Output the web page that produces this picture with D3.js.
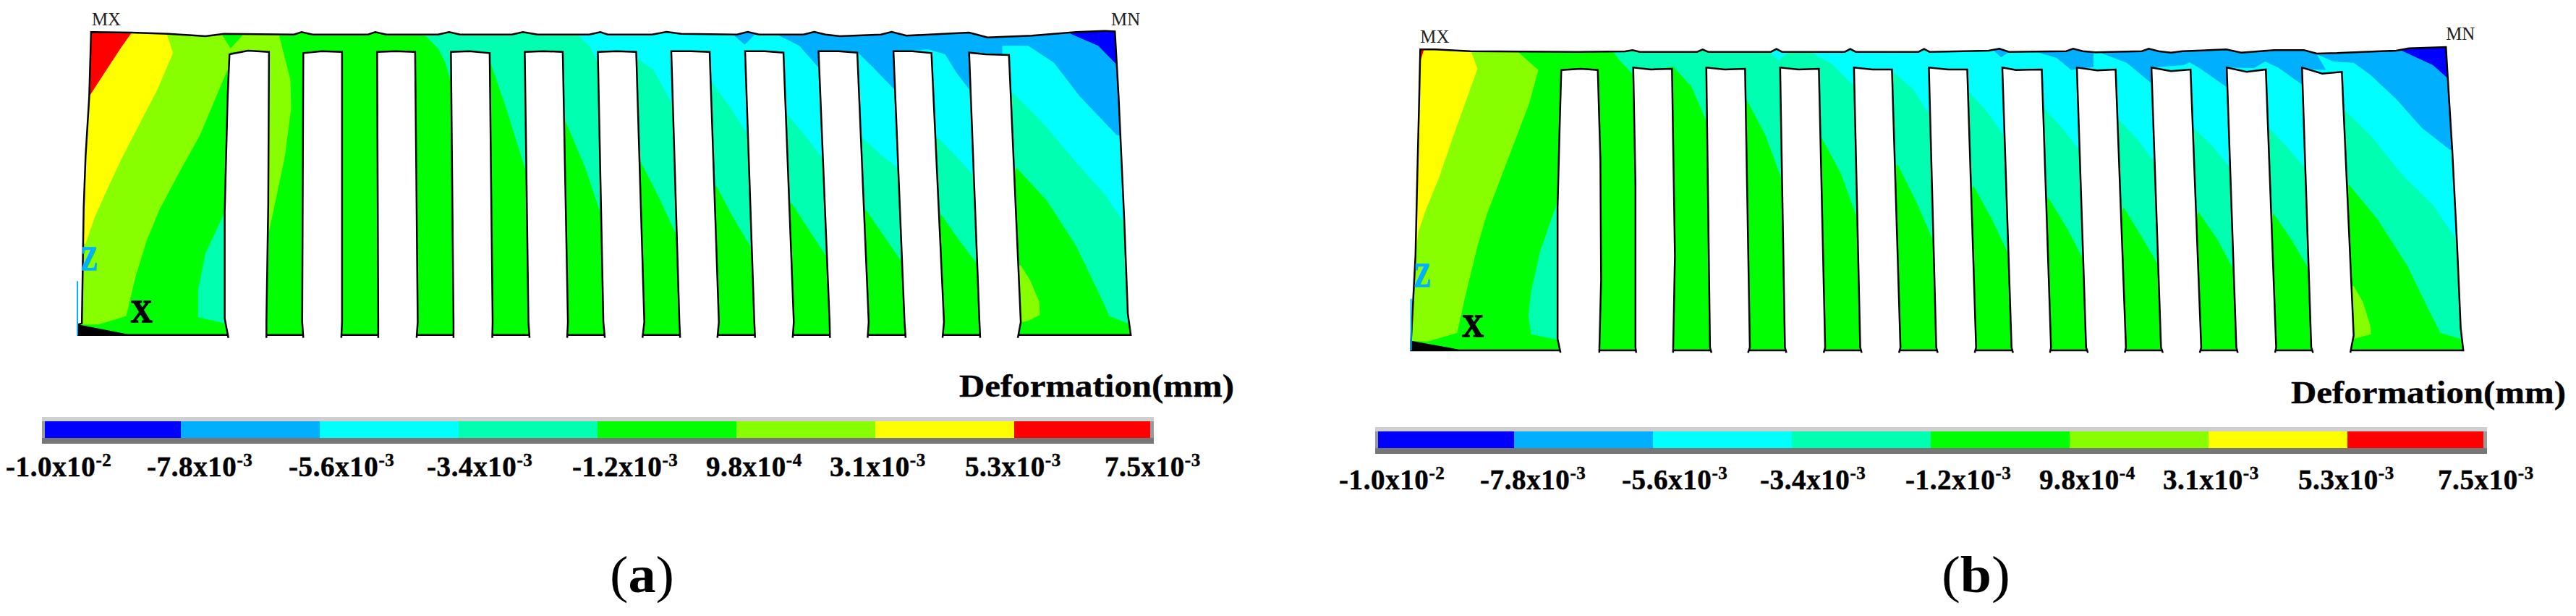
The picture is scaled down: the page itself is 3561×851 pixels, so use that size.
<!DOCTYPE html>
<html>
<head>
<meta charset="utf-8">
<script src="https://cdn.jsdelivr.net/npm/d3@7"></script>
<style>
body { margin: 0; background: #fff; }
text { font-family: "Liberation Serif", serif; }
</style>
</head>
<body>
<div id="chart"></div>
<script>
var outerWidth = 3561;
var outerHeight = 851;

// legend
var levels = [-1.0e-2, -7.8e-3, -5.6e-3, -3.4e-3, -1.2e-3, 9.8e-4, 3.1e-3, 5.3e-3, 7.5e-3];
var levelMant = ["-1.0", "-7.8", "-5.6", "-3.4", "-1.2", "9.8", "3.1", "5.3", "7.5"];
var levelExp = ["-2", "-3", "-3", "-3", "-3", "-4", "-3", "-3", "-3"];
var levelColors = ["#0000ff", "#00b0ff", "#00ffff", "#00ffb0", "#00ff00", "#88ff00", "#ffff00", "#ff0000"];
var labelNudge = [-50, -47, -43, -44, -35, -42, -63, -68, -67];

// model coordinates: x along the part 0-3000, y depth from above 0-1440
var a_outline = [[90,133],[200,135],[300,140],[400,150],[450,140],[640,143],[660,133],[690,143],[840,143],[860,133],[890,143],[1030,143],[1060,133],[1090,143],[1230,143],[1260,133],[1300,143],[1440,143],[1470,133],[1490,143],[1610,143],[1649,132],[1689,140],[1840,143],[1869,132],[1900,143],[2020,143],[2049,132],[2080,143],[2119,150],[2230,143],[2259,132],[2299,148],[2429,138],[2469,135],[2519,155],[2639,148],[2759,133],[2839,128],[2864,130],[2874,400],[2889,900],[2899,1300],[2907,1388],[55,1388],[55,1345],[65,1340],[70,860],[75,650],[85,400]];
var a_slots = [
  [[462,1400],[452,1320],[452,880],[460,400],[465,225],[515,210],[572,215],[570,850],[565,1335],[565,1400]],
  [[665,1400],[662,1335],[665,220],[715,212],[770,215],[770,1335],[768,1400]],
  [[868,1400],[868,1335],[865,215],[915,212],[968,215],[975,1335],[972,1400]],
  [[1072,1400],[1072,1335],[1065,215],[1115,212],[1170,220],[1178,1335],[1177,1400]],
  [[1278,1400],[1275,1335],[1265,215],[1315,212],[1368,215],[1382,1335],[1380,1400]],
  [[1482,1400],[1478,1335],[1463,215],[1515,212],[1567,215],[1589,1335],[1584,1400]],
  [[1686,1400],[1684,1335],[1662,212],[1715,212],[1766,215],[1791,1335],[1787,1400]],
  [[1889,1400],[1887,1335],[1862,212],[1915,212],[1966,218],[1994,1335],[1991,1400]],
  [[2092,1400],[2091,1335],[2061,212],[2115,212],[2166,218],[2197,1335],[2194,1400]],
  [[2297,1400],[2294,1335],[2264,212],[2315,212],[2367,220],[2401,1335],[2397,1400]],
  [[2499,1400],[2497,1335],[2469,218],[2514,225],[2577,228],[2609,1335],[2601,1400]]
];
var a_lime = [
  [[40,1345],[40,100],[445,100],[445,145],[468,200],[465,270],[385,560],[320,740],[275,870],[240,1000],[210,1150],[185,1310],[110,1345]],
  [[500,100],[600,100],[600,150],[630,330],[632,450],[615,650],[572,960],[560,960],[560,215],[465,215],[468,200],[500,148]],
  [[2600,1100],[2609,1100],[2634,1160],[2659,1250],[2661,1305],[2629,1330],[2600,1338]]
];
var a_yellow = [[[40,1010],[75,1010],[100,900],[135,780],[175,650],[270,370],[312,220],[295,140],[295,100],[40,100]]];
var a_red = [[[40,400],[85,400],[140,270],[170,200],[200,135],[200,100],[40,100]]];
var a_teal = [
  [[470,880],[452,880],[400,1050],[380,1200],[380,1315],[452,1340],[470,1345]],
  [[990,100],[990,140],[1030,200],[1050,260],[1065,340],[1170,250],[1215,450],[1270,720],[1375,500],[1430,700],[1475,905],[1579,670],[1629,820],[1679,985],[1784,770],[1829,900],[1884,1040],[1987,840],[2034,950],[2087,1075],[2189,870],[2239,980],[2291,1095],[2394,890],[2439,990],[2494,1100],[2597,695],[2679,830],[2759,1020],[2819,1210],[2849,1310],[2899,1340],[2960,1340],[2960,100]]
];
var a_cyan = [[[1405,100],[1405,140],[1440,190],[1463,260],[1567,240],[1614,290],[1664,430],[1772,340],[1819,440],[1871,560],[1974,470],[2029,570],[2076,665],[2179,570],[2229,640],[2279,700],[2384,570],[2429,640],[2479,725],[2587,385],[2669,510],[2769,690],[2839,810],[2887,920],[2960,920],[2960,100]]];
var a_sky = [
  [[1831,100],[1831,145],[1861,185],[1887,145],[1887,100]],
  [[1954,100],[1954,148],[2009,190],[2061,280],[2061,212],[2169,220],[2209,280],[2266,370],[2266,212],[2359,205],[2404,225],[2434,300],[2469,370],[2469,218],[2559,225],[2559,190],[2629,190],[2699,260],[2769,400],[2869,560],[2960,560],[2960,100]]
];
var a_blue = [[[2744,100],[2744,140],[2819,190],[2867,265],[2960,265],[2960,100]]];
var a_black = [[55,1345],[190,1385],[55,1388]];

var b_outline = [[85,145],[125,145],[220,152],[510,155],[640,153],[660,148],[680,155],[835,155],[850,145],[865,155],[1035,155],[1050,143],[1065,155],[1235,155],[1250,143],[1265,155],[1435,155],[1450,143],[1465,155],[1625,150],[1654,142],[1680,155],[1835,152],[1854,142],[1880,152],[1914,157],[2040,152],[2059,142],[2085,152],[2119,158],[2150,152],[2269,145],[2309,158],[2399,148],[2479,148],[2514,162],[2569,160],[2639,155],[2729,150],[2764,140],[2864,135],[2869,265],[2881,560],[2894,950],[2904,1300],[2911,1392],[60,1392],[60,1352],[72,1000],[78,600],[82,350]];
var b_slots = [
  [[465,1402],[457,1345],[457,800],[462,500],[467,230],[520,225],[566,230],[573,600],[575,1100],[570,1402]],
  [[670,1402],[668,1380],[668,700],[662,220],[710,228],[767,225],[775,1000],[770,1402]],
  [[874,1402],[870,1380],[860,220],[910,228],[965,225],[978,1380],[973,1402]],
  [[1077,1402],[1073,1380],[1060,220],[1110,228],[1165,225],[1182,1380],[1178,1402]],
  [[1281,1402],[1277,1380],[1260,220],[1310,228],[1363,228],[1386,1380],[1382,1402]],
  [[1487,1402],[1483,1380],[1463,220],[1515,228],[1567,228],[1591,1380],[1587,1402]],
  [[1691,1402],[1687,1380],[1662,220],[1699,230],[1769,228],[1794,1380],[1791,1402]],
  [[1894,1402],[1889,1380],[1864,220],[1919,232],[1969,228],[1997,1380],[1994,1402]],
  [[2097,1402],[2092,1380],[2066,220],[2119,235],[2172,228],[2201,1380],[2197,1402]],
  [[2300,1402],[2296,1380],[2270,220],[2324,238],[2376,228],[2404,1380],[2401,1402]],
  [[2504,1402],[2499,1380],[2474,220],[2529,245],[2582,238],[2614,1330],[2605,1402]]
];
var b_lime = [
  [[40,1352],[40,100],[350,100],[350,155],[405,230],[380,370],[350,490],[295,710],[265,830],[240,960],[205,1180],[185,1320],[105,1355]],
  [[2605,1125],[2614,1125],[2639,1190],[2659,1290],[2661,1325],[2614,1345],[2605,1348]]
];
var b_yellow = [[[40,960],[75,960],[80,900],[100,810],[135,680],[180,480],[240,225],[222,150],[222,100],[40,100]]];
var b_red = [[[60,195],[85,195],[95,145],[95,100],[60,100]]];
var b_teal = [
  [[470,770],[458,770],[410,980],[385,1150],[378,1250],[385,1325],[460,1350],[470,1352]],
  [[600,100],[600,140],[625,190],[662,250],[770,215],[820,300],[865,460],[968,350],[1020,500],[1068,700],[1172,510],[1225,660],[1272,860],[1378,620],[1430,780],[1478,950],[1584,710],[1634,850],[1681,1000],[1787,760],[1839,890],[1886,1030],[1991,800],[2039,920],[2089,1050],[2194,820],[2244,930],[2291,1065],[2397,825],[2444,930],[2494,1060],[2601,705],[2679,850],[2759,1040],[2819,1230],[2849,1320],[2904,1345],[2960,1345],[2960,100]]
];
var b_cyan = [
  [[1025,100],[1025,150],[1055,190],[1090,150],[1090,100]],
  [[1135,100],[1135,150],[1200,205],[1255,290],[1368,240],[1420,310],[1467,420],[1571,320],[1619,400],[1669,510],[1776,390],[1824,470],[1874,570],[1981,440],[2029,520],[2079,620],[2184,475],[2234,550],[2281,640],[2387,475],[2434,550],[2484,640],[2591,400],[2659,500],[2749,670],[2829,790],[2891,930],[2960,930],[2960,100]]
];
var b_sky = [
  [[1639,100],[1639,150],[1659,178],[1684,150],[1684,100]],
  [[1754,100],[1754,155],[1809,180],[1849,230],[1864,225],[1909,218],[1909,157],[1929,160],[1999,200],[2066,285],[2066,220],[2154,210],[2169,198],[2199,225],[2269,300],[2270,220],[2344,222],[2374,195],[2409,220],[2474,290],[2474,225],[2539,230],[2514,165],[2559,195],[2614,200],[2659,250],[2729,350],[2799,470],[2874,560],[2960,560],[2960,100]]
];
var b_blue = [[[2744,100],[2744,150],[2829,210],[2869,265],[2960,265],[2960,100]]];
var b_black = [[60,1352],[190,1388],[60,1392]];

var panels = [
  { letter: "a", left: 80, top: 0, outline: a_outline, slots: a_slots, black: a_black, axisX: 53, axisY: [1165, 1390],
    layers: [[5, a_lime], [6, a_yellow], [7, a_red], [3, a_teal], [2, a_cyan], [1, a_sky], [0, a_blue]],
    mx: [92, 105], mn: [2854, 105], z: [62, 1118], x: [197, 1335],
    barLeft: 62, barTop: 582, labelY: 658, titleX: 1326, titleY: 548, capX: 843, capW: 89, capY: 818 },
  { letter: "b", left: 1920, top: 20, outline: b_outline, slots: b_slots, black: b_black, axisX: 60, axisY: [1178, 1392],
    layers: [[5, b_lime], [6, b_yellow], [7, b_red], [3, b_teal], [2, b_cyan], [1, b_sky], [0, b_blue]],
    mx: [85, 118], mn: [2864, 105], z: [68, 1128], x: [198, 1335],
    barLeft: 1905, barTop: 596, labelY: 676, titleX: 3167, titleY: 557, capX: 2684, capW: 95, capY: 818 }
];

var svg = d3.select("#chart").append("svg")
  .attr("width", outerWidth)
  .attr("height", outerHeight);

svg.append("rect").attr("width", outerWidth).attr("height", outerHeight).attr("fill", "#fff");

panels.forEach(drawPanel);

function drawPanel(p) {
  var g = svg.append("g");

  var xScale = d3.scaleLinear().domain([0, 3000]).range([p.left, p.left + 1530.6]);
  var yScale = d3.scaleLinear().domain([0, 1440]).range([p.top, p.top + 480]);
  var line = d3.line()
    .x(function(d) { return xScale(d[0]); })
    .y(function(d) { return yScale(d[1]); });

  var clipId = "solid-" + p.letter;
  g.append("clipPath").attr("id", clipId)
    .append("path").attr("d", line(p.outline) + "Z");

  g.append("path")
    .attr("d", line(p.outline) + "Z")
    .attr("fill", levelColors[4]);

  // contour bands, painted from the middle of the scale outwards
  var bands = g.append("g").attr("clip-path", "url(#" + clipId + ")");
  p.layers.forEach(function(layer) {
    bands.selectAll(null)
      .data(layer[1])
      .enter().append("path")
        .attr("d", function(d) { return line(d) + "Z"; })
        .attr("fill", levelColors[layer[0]]);
  });
  bands.append("path").attr("d", line(p.black) + "Z").attr("fill", "#000");

  g.append("path")
    .attr("d", line(p.outline) + "Z")
    .attr("fill", "none")
    .attr("stroke", "#000")
    .attr("stroke-width", 2.5);

  // slots are open at the bottom
  g.selectAll(".slot")
    .data(p.slots)
    .enter().append("path")
      .attr("class", "slot")
      .attr("d", line)
      .attr("fill", "#fff")
      .attr("stroke", "#000")
      .attr("stroke-width", 2.5);

  // coordinate axes
  g.append("line")
    .attr("x1", xScale(p.axisX)).attr("x2", xScale(p.axisX))
    .attr("y1", yScale(p.axisY[0])).attr("y2", yScale(p.axisY[1]))
    .attr("stroke", "#00b0ff").attr("stroke-width", 2);

  modelText(g, "MX", xScale(p.mx[0]), yScale(p.mx[1]), 26, 40, "normal", "#222", 0);
  modelText(g, "MN", xScale(p.mn[0]), yScale(p.mn[1]), 26, 40, "normal", "#222", 0);
  modelText(g, "Z", xScale(p.z[0]), yScale(p.z[1]), 47, 23, "bold", "#00b0ff", 1.5);
  modelText(g, "X", xScale(p.x[0]), yScale(p.x[1]), 45, 30, "bold", "#000", 1.5);

  // legend bar, equal steps clamped to the bar ends
  var barScale = d3.scalePoint()
    .domain(levels)
    .range([p.barLeft - 4, p.barLeft + 1532]);
  var barX = function(d) {
    return Math.min(Math.max(barScale(d), p.barLeft), p.barLeft + 1528);
  };

  g.append("rect").attr("x", p.barLeft - 4).attr("y", p.barTop - 6).attr("width", 1537).attr("height", 37).attr("fill", "#9a9a9a");
  g.append("rect").attr("x", p.barLeft - 4).attr("y", p.barTop - 6).attr("width", 1537).attr("height", 6).attr("fill", "#cfcfcf");
  g.append("rect").attr("x", p.barLeft - 4).attr("y", p.barTop + 23).attr("width", 1537).attr("height", 8).attr("fill", "#777");

  g.selectAll(".swatch")
    .data(levelColors)
    .enter().append("rect")
      .attr("class", "swatch")
      .attr("x", function(d, i) { return barX(levels[i]); })
      .attr("y", p.barTop)
      .attr("width", function(d, i) { return barX(levels[i + 1]) - barX(levels[i]); })
      .attr("height", 23)
      .attr("fill", function(d) { return d; });

  var labels = g.selectAll(".level")
    .data(levels)
    .enter().append("text")
      .attr("class", "level")
      .attr("x", function(d, i) { return barScale(d) + labelNudge[i]; })
      .attr("y", p.labelY)
      .attr("font-size", 39)
      .attr("font-weight", "bold")
      .attr("letter-spacing", 0.6)
      .attr("stroke", "#000")
      .attr("stroke-width", 0.5)
      .attr("fill", "#000");
  labels.append("tspan").text(function(d, i) { return levelMant[i] + "x10"; });
  labels.append("tspan")
    .attr("font-size", 25)
    .attr("dy", -14)
    .text(function(d, i) { return levelExp[i]; });

  modelText(g, "Deformation(mm)", p.titleX, p.titleY, 45, 380, "bold", "#000", 0.4);

  // (a) / (b)
  var cap = g.append("text")
    .attr("x", p.capX).attr("y", p.capY)
    .attr("font-size", 72)
    .attr("textLength", p.capW)
    .attr("lengthAdjust", "spacingAndGlyphs")
    .attr("fill", "#000");
  cap.append("tspan").text("(");
  cap.append("tspan").attr("font-weight", "bold").text(p.letter);
  cap.append("tspan").text(")");
}

function modelText(g, str, x, y, size, width, weight, color, thick) {
  g.append("text")
    .attr("x", x).attr("y", y)
    .attr("font-size", size)
    .attr("font-weight", weight)
    .attr("textLength", width)
    .attr("lengthAdjust", "spacingAndGlyphs")
    .attr("fill", color)
    .attr("stroke", color)
    .attr("stroke-width", thick)
    .text(str);
}
</script>
</body>
</html>
